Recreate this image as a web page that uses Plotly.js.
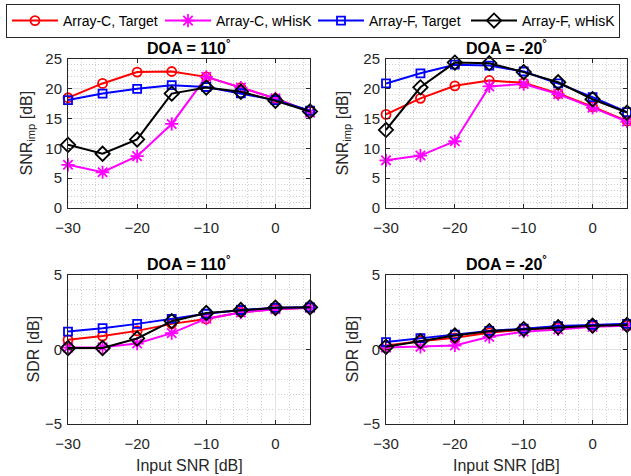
<!DOCTYPE html>
<html>
<head>
<meta charset="utf-8">
<script src="https://cdn.plot.ly/plotly-3.0.1.min.js"></script>
<style>html,body{margin:0;padding:0;background:#fff;}#plot{width:631px;height:476px;}</style>
</head>
<body>
<div id="plot"></div>
<script>
// Input SNR [dB]
const snrIn = [-30, -25, -20, -15, -10, -5, 0, 5];
const seriesNames = ["Array-C, Target", "Array-C, wHisK", "Array-F, Target", "Array-F, wHisK"];

// SNR_imp, DOA = 110
const snr110_cTarget = [18.5, 20.9, 22.8, 22.9, 22.0, 20.2, 18.4, 16.2];
const snr110_cWhisk  = [7.25, 6.0, 8.7, 14.1, 22.0, 20.2, 18.4, 16.0];
const snr110_fTarget = [18.1, 19.2, 20.0, 20.6, 20.3, 19.25, 18.1, 16.35];
const snr110_fWhisk  = [10.6, 9.1, 11.5, 19.2, 20.2, 19.5, 18.0, 16.2];

// SNR_imp, DOA = -20
const snrM20_cTarget = [15.7, 18.4, 20.5, 21.4, 21.0, 19.2, 17.0, 14.6];
const snrM20_cWhisk  = [8.0, 8.8, 11.2, 20.4, 20.8, 19.1, 16.85, 14.5];
const snrM20_fTarget = [20.9, 22.6, 24.05, 23.9, 22.9, 20.9, 18.6, 16.1];
const snrM20_fWhisk  = [13.1, 20.25, 24.4, 24.3, 22.8, 21.1, 18.25, 16.0];

// SDR, DOA = 110
const sdr110_cTarget = [0.65, 0.9, 1.25, 1.72, 2.05, 2.5, 2.7, 2.8];
const sdr110_cWhisk  = [0.13, 0.15, 0.4, 1.1, 2.07, 2.48, 2.7, 2.8];
const sdr110_fTarget = [1.2, 1.43, 1.72, 2.05, 2.4, 2.65, 2.8, 2.83];
const sdr110_fWhisk  = [0.1, 0.1, 0.74, 1.9, 2.45, 2.65, 2.8, 2.83];

// SDR, DOA = -20
const sdrM20_cTarget = [0.27, 0.56, 0.78, 1.12, 1.35, 1.46, 1.57, 1.6];
const sdrM20_cWhisk  = [0.13, 0.18, 0.27, 0.85, 1.19, 1.35, 1.52, 1.6];
const sdrM20_fTarget = [0.5, 0.76, 1.0, 1.25, 1.4, 1.57, 1.65, 1.72];
const sdrM20_fWhisk  = [0.18, 0.56, 0.94, 1.23, 1.37, 1.5, 1.6, 1.65];

const panelTitles = ['DOA = 110<sup>°</sup>', 'DOA = -20<sup>°</sup>', 'DOA = 110<sup>°</sup>', 'DOA = -20<sup>°</sup>'];
const yTitles = ['SNR<sub>imp</sub> [dB]', 'SNR<sub>imp</sub> [dB]', 'SDR [dB]', 'SDR [dB]'];
const xTitle = 'Input SNR [dB]';

const styles = [
  {color: '#ff0000', symbol: 'circle-open', size: 9},
  {color: '#ff00ff', symbol: 'asterisk-open', size: 11},
  {color: '#0000ff', symbol: 'square-open', size: 8},
  {color: '#000000', symbol: 'diamond-open', size: 11}
];

const panels = [
  {xa: 'x', ya: 'y', data: [snr110_cTarget, snr110_cWhisk, snr110_fTarget, snr110_fWhisk]},
  {xa: 'x2', ya: 'y2', data: [snrM20_cTarget, snrM20_cWhisk, snrM20_fTarget, snrM20_fWhisk]},
  {xa: 'x3', ya: 'y3', data: [sdr110_cTarget, sdr110_cWhisk, sdr110_fTarget, sdr110_fWhisk]},
  {xa: 'x4', ya: 'y4', data: [sdrM20_cTarget, sdrM20_cWhisk, sdrM20_fTarget, sdrM20_fWhisk]}
];

const traces = [];
panels.forEach((p, pi) => {
  p.data.forEach((vals, si) => {
    const st = styles[si];
    traces.push({
      type: 'scatter', mode: 'lines+markers',
      x: snrIn, y: vals, xaxis: p.xa, yaxis: p.ya,
      name: seriesNames[si], showlegend: pi === 0,
      line: {color: st.color, width: 2},
      marker: {symbol: st.symbol, size: st.size, color: st.color, line: {color: st.color, width: 1.8}},
      cliponaxis: false
    });
  });
});

const W = 631, H = 476;
const xd1 = [68 / W, 310 / W], xd2 = [386 / W, 627 / W];
const ydTop = [1 - 208 / H, 1 - 59 / H], ydBot = [1 - 424 / H, 1 - 275 / H];
const fam = 'Liberation Sans, Arial, sans-serif';
const font = {family: fam, size: 15, color: '#262626'};
const minorGrid = {showgrid: true, gridcolor: '#cfcfcf', griddash: '1px,2px', gridwidth: 1};

function xaxis(domain, anchor) {
  return {
    domain: domain, anchor: anchor, range: [-30, 5], tickvals: [-30, -20, -10, 0],
    ticks: 'inside', ticklen: 4, tickcolor: '#262626', showline: true, linecolor: '#262626',
    linewidth: 1, mirror: 'ticks', showgrid: true, gridcolor: '#e3e3e3', zeroline: false,
    tickfont: font, automargin: false, ticklabelstandoff: 6,
    minor: Object.assign({dtick: 2}, minorGrid)
  };
}
function yaxis(domain, anchor, range, dtick) {
  return {
    domain: domain, anchor: anchor, range: range, dtick: dtick,
    ticks: 'inside', ticklen: 4, tickcolor: '#262626', showline: true, linecolor: '#262626',
    linewidth: 1, mirror: 'ticks', showgrid: true, gridcolor: '#e3e3e3', zeroline: false,
    tickfont: font, automargin: false, ticklabelstandoff: 2,
    minor: Object.assign({dtick: 1}, minorGrid)
  };
}

const titleFont = {family: fam, size: 16, color: '#000'};
const labelFont = {family: fam, size: 16, color: '#262626'};
function ann(x, y, text, opts) {
  return Object.assign({xref: 'paper', yref: 'paper', x: x, y: y, text: text, showarrow: false}, opts);
}
const cx1 = (xd1[0] + xd1[1]) / 2, cx2 = (xd2[0] + xd2[1]) / 2;
const cyT = (ydTop[0] + ydTop[1]) / 2, cyB = (ydBot[0] + ydBot[1]) / 2;

const annotations = [
  ann(cx1, ydTop[1], '<b>' + panelTitles[0] + '</b>', {xanchor: 'center', yanchor: 'bottom', font: titleFont}),
  ann(cx2, ydTop[1], '<b>' + panelTitles[1] + '</b>', {xanchor: 'center', yanchor: 'bottom', font: titleFont}),
  ann(cx1, ydBot[1], '<b>' + panelTitles[2] + '</b>', {xanchor: 'center', yanchor: 'bottom', font: titleFont}),
  ann(cx2, ydBot[1], '<b>' + panelTitles[3] + '</b>', {xanchor: 'center', yanchor: 'bottom', font: titleFont}),
  ann(27 / W, cyT, yTitles[0], {xanchor: 'center', yanchor: 'middle', textangle: -90, font: labelFont}),
  ann(343 / W, cyT, yTitles[1], {xanchor: 'center', yanchor: 'middle', textangle: -90, font: labelFont}),
  ann(33 / W, cyB, yTitles[2], {xanchor: 'center', yanchor: 'middle', textangle: -90, font: labelFont}),
  ann(352 / W, cyB, yTitles[3], {xanchor: 'center', yanchor: 'middle', textangle: -90, font: labelFont}),
  ann(cx1, 1 - 465 / H, xTitle, {xanchor: 'center', yanchor: 'middle', font: labelFont}),
  ann(cx2, 1 - 465 / H, xTitle, {xanchor: 'center', yanchor: 'middle', font: labelFont})
];

const layout = {
  width: W, height: H, margin: {l: 0, r: 0, t: 0, b: 0},
  paper_bgcolor: '#fff', plot_bgcolor: '#fff', font: font,
  xaxis: xaxis(xd1, 'y'), yaxis: yaxis(ydTop, 'x', [0, 25], 5),
  xaxis2: xaxis(xd2, 'y2'), yaxis2: yaxis(ydTop, 'x2', [0, 25], 5),
  xaxis3: xaxis(xd1, 'y3'), yaxis3: yaxis(ydBot, 'x3', [-5, 5], 5),
  xaxis4: xaxis(xd2, 'y4'), yaxis4: yaxis(ydBot, 'x4', [-5, 5], 5),
  showlegend: true,
  legend: {
    orientation: 'h', x: 6 / W, y: 1 - 4 / H, xanchor: 'left', yanchor: 'top',
    bordercolor: '#262626', borderwidth: 1, bgcolor: '#fff',
    font: {family: fam, size: 14, color: '#000'}, itemwidth: 46, entrywidth: 92, tracegroupgap: 0
  },
  annotations: annotations
};

Plotly.newPlot('plot', traces, layout, {displayModeBar: false, staticPlot: true});
</script>
</body>
</html>
